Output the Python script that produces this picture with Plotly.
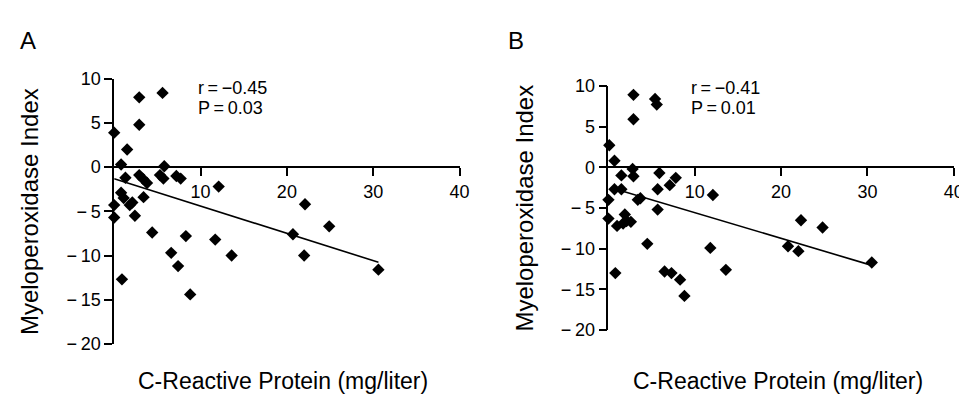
import plotly.graph_objects as go

# ---------------- data ----------------
crp_a = [0.0, 2.9, 5.6, 2.9, 1.5, 0.8, 1.3, 2.9, 3.3, 3.8, 5.8, 5.3, 5.7, 7.2, 7.7, 12.1,
         0.8, 1.1, 0.0, 0.0, 1.8, 2.1, 2.4, 3.4, 4.4, 6.6, 7.4, 8.3, 8.8, 11.7, 13.6, 0.9,
         20.7, 22.1, 22.0, 24.9, 30.6]
mpo_a = [3.9, 7.9, 8.4, 4.8, 2.0, 0.3, -1.2, -0.9, -1.3, -1.8, 0.1, -0.9, -1.3, -1.0, -1.3, -2.2,
         -2.9, -3.5, -4.3, -5.7, -4.3, -4.0, -5.5, -3.4, -7.4, -9.7, -11.2, -7.8, -14.4, -8.2, -10.0, -12.7,
         -7.6, -4.2, -10.0, -6.7, -11.6]

crp_b = [2.9, 2.9, 5.4, 5.6, 0.1, 0.7, 2.8, 2.9, 1.5, 5.9, 7.1, 7.8, 5.7, 0.7, 1.5, 0.0, 3.4, 3.7,
         12.1, 5.7, 0.0, 1.0, 1.9, 2.1, 2.6, 1.7, 4.5, 11.8, 13.6, 0.8, 6.5, 7.3, 8.3, 8.8,
         20.8, 22.0, 22.3, 24.8, 30.5]
mpo_b = [8.9, 5.9, 8.4, 7.7, 2.7, 0.8, -0.2, -1.1, -1.0, -0.7, -2.2, -1.3, -2.7, -2.7, -2.7, -4.0, -4.0, -3.8,
         -3.4, -5.2, -6.3, -7.2, -5.8, -6.6, -6.7, -6.9, -9.4, -9.9, -12.6, -13.0, -12.8, -13.0, -13.8, -15.8,
         -9.7, -10.3, -6.5, -7.4, -11.7]

fit_a_x = [0.0, 30.6]
fit_a_intercept = -1.31
fit_a_slope = -0.309
fit_b_x = [0.4, 30.5]
fit_b_intercept = -2.41
fit_b_slope = -0.316

stats_a = ["r\u2009=\u2009\u22120.45", "P\u2009=\u20090.03"]
stats_b = ["r\u2009=\u2009\u22120.41", "P\u2009=\u20090.01"]
panel_labels = ["A", "B"]
x_title = "C-Reactive Protein (mg/liter)"
y_title = "Myeloperoxidase Index"

y_tickvals = [-20, -15, -10, -5, 0, 5, 10]
y_ticktext = ["\u2212\u200920", "\u2212\u200915", "\u2212\u200910", "\u2212\u20095", "0", "5", "10"]
x_tickvals = [10, 20, 30, 40]
x_ticktext = ["10", "20", "30", "40"]

# ---------------- layout geometry (pixels) ----------------
W, H = 967, 394
FONT = "Liberation Sans, Arial, Helvetica, sans-serif"
x_range = [0, 40]
y_range = [-20, 10]

panels = [
    dict(x0=107.3, x1=456.3, ytop=64.0, ybot=343.3, stats=stats_a, sx=190, label_xy=(20, 24), ytx=22, xtx=278),
    dict(x0=606.7, x1=955.7, ytop=71.5, ybot=328.8, stats=stats_b, sx=688, label_xy=(513, 24), ytx=522, xtx=778),
]

fig = go.Figure()

def fx(px):
    return px / W

def fy(py):
    return 1 - py / H

datasets = [(crp_a, mpo_a, fit_a_x, fit_a_intercept, fit_a_slope),
            (crp_b, mpo_b, fit_b_x, fit_b_intercept, fit_b_slope)]

annotations = []
for i, (p, (xs, ys, fx_, b0, b1)) in enumerate(zip(panels, datasets)):
    suffix = "" if i == 0 else str(i + 1)
    xa, ya = "x" + suffix, "y" + suffix
    fig.add_trace(go.Scatter(x=fx_, y=[b0 + b1 * v for v in fx_], mode="lines",
                             line=dict(color="black", width=1.6), xaxis=xa, yaxis=ya,
                             showlegend=False, hoverinfo="skip", cliponaxis=False))
    fig.add_trace(go.Scatter(x=xs, y=ys, mode="markers",
                             marker=dict(symbol="diamond", size=9.5, color="black"),
                             xaxis=xa, yaxis=ya, showlegend=False, cliponaxis=False))
    xdom = [fx(p["x0"]), fx(p["x1"])]
    ydom = [fy(p["ybot"]), fy(p["ytop"])]
    pos = ydom[0] + (0 - y_range[0]) / (y_range[1] - y_range[0]) * (ydom[1] - ydom[0])
    fig.layout["xaxis" + suffix] = dict(
        domain=xdom, range=x_range, anchor="free", position=pos,
        showline=True, linecolor="black", linewidth=1.8,
        ticks="outside", ticklen=8, tickwidth=1.8, tickcolor="black",
        tickvals=x_tickvals, ticktext=x_ticktext,
        tickfont=dict(family=FONT, size=18, color="black"),
        showgrid=False, zeroline=False, fixedrange=True,
    )
    fig.layout["yaxis" + suffix] = dict(
        domain=ydom, range=y_range, anchor=xa,
        showline=True, linecolor="black", linewidth=1.8,
        ticks="outside", ticklen=8, tickwidth=1.8, tickcolor="black",
        tickvals=y_tickvals, ticktext=y_ticktext,
        tickfont=dict(family=FONT, size=18, color="black"),
        showgrid=False, zeroline=False, fixedrange=True,
    )
    # stats text
    for j, t in enumerate(p["stats"]):
        annotations.append(dict(text=t, x=fx(p["sx"]), y=fy(73.5 + 21.5 * j), xref="paper", yref="paper",
                                xanchor="left", yanchor="middle", showarrow=False,
                                font=dict(family=FONT, size=18, color="black")))
    # panel label
    annotations.append(dict(text=panel_labels[i], x=fx(p["label_xy"][0]), y=fy(p["label_xy"][1]),
                            xref="paper", yref="paper", xanchor="center", yanchor="middle",
                            showarrow=False, font=dict(family=FONT, size=24, color="black")))
    # axis titles
    annotations.append(dict(text=y_title, x=fx(p["ytx"]), y=fy((p["ytop"] + p["ybot"]) / 2),
                            xref="paper", yref="paper", xanchor="center", yanchor="middle",
                            textangle=-90, showarrow=False,
                            font=dict(family=FONT, size=24, color="black")))
    annotations.append(dict(text=x_title, x=fx(p["xtx"]), y=fy(382),
                            xref="paper", yref="paper", xanchor="center", yanchor="middle",
                            showarrow=False, font=dict(family=FONT, size=23, color="black")))

fig.update_layout(width=W, height=H, autosize=False,
                  margin=dict(l=0, r=0, t=0, b=0),
                  paper_bgcolor="white", plot_bgcolor="white",
                  annotations=annotations, showlegend=False)

fig.write_html("out.html", config={"displayModeBar": False})
